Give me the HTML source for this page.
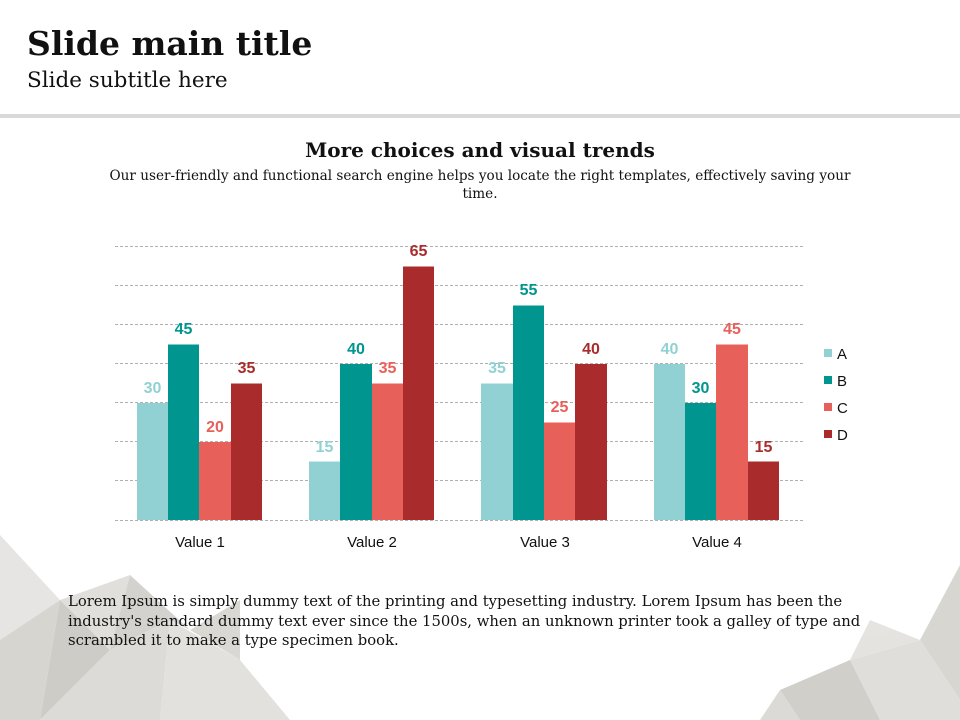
<!DOCTYPE html>
<html><head><meta charset="utf-8"><style>
body{margin:0;width:960px;height:720px;background:#fff;position:relative;overflow:hidden;font-family:"DejaVu Serif","Liberation Serif",serif}
.a{position:absolute}
</style></head><body>
<svg class="a" style="left:0;top:0" width="960" height="720">
<g opacity="0.9">
<polygon points="0,535 60,600 0,640" fill="#e4e3e0"/>
<polygon points="0,640 60,600 40,720 0,720" fill="#d2d1cc"/>
<polygon points="60,600 130,575 110,650" fill="#dddcd8"/>
<polygon points="60,600 110,650 40,720" fill="#c8c7c2"/>
<polygon points="110,650 170,620 160,720 40,720" fill="#d9d8d4"/>
<polygon points="130,575 190,630 170,620 110,650" fill="#cfcec9"/>
<polygon points="170,620 240,660 290,720 160,720" fill="#dfdeda"/>
<polygon points="190,630 240,600 240,660" fill="#d5d4cf"/>
<polygon points="960,565 920,640 960,700" fill="#d3d2cd"/>
<polygon points="920,640 850,660 880,720 960,720 960,700" fill="#dcdbd7"/>
<polygon points="850,660 780,690 800,720 880,720" fill="#cbcac5"/>
<polygon points="920,640 870,620 850,660" fill="#e2e1dd"/>
<polygon points="780,690 760,720 800,720" fill="#d8d7d3"/>
</g>
</svg>
<div class="a" style="left:27px;top:24px;font-size:33px;font-weight:bold;color:#111">Slide main title</div>
<div class="a" style="left:27px;top:68px;font-size:21.5px;color:#111">Slide subtitle here</div>
<div class="a" style="left:0;top:114px;width:960px;height:4px;background:#d9d9d9"></div>
<div class="a" style="left:0;top:138px;width:960px;text-align:center;font-size:20px;font-weight:bold;color:#111">More choices and visual trends</div>
<div class="a" style="left:105px;top:167px;width:750px;text-align:center;font-size:13.6px;line-height:18px;color:#111">Our user-friendly and functional search engine helps you locate the right templates, effectively saving your time.</div>
<svg class="a" style="left:0;top:0" width="960" height="720" font-family="'Liberation Sans',sans-serif">
<g stroke="#b0b0b0" stroke-dasharray="3,2" stroke-width="1">
<line x1="115" x2="805" y1="246.5" y2="246.5"/><line x1="115" x2="805" y1="285.5" y2="285.5"/>
<line x1="115" x2="805" y1="324.5" y2="324.5"/><line x1="115" x2="805" y1="363.5" y2="363.5"/>
<line x1="115" x2="805" y1="402.5" y2="402.5"/><line x1="115" x2="805" y1="441.5" y2="441.5"/>
<line x1="115" x2="805" y1="480.5" y2="480.5"/><line x1="115" x2="805" y1="520.5" y2="520.5"/>
</g>
<g font-size="16" font-weight="bold" text-anchor="middle">
<rect x="137" y="403" width="31" height="117" fill="#92d1d3"/><text x="152.5" y="393" fill="#92d1d3">30</text>
<rect x="168" y="344.5" width="31" height="175.5" fill="#00968f"/><text x="183.5" y="334" fill="#00968f">45</text>
<rect x="199" y="442" width="32" height="78" fill="#e8605a"/><text x="215" y="432" fill="#e8605a">20</text>
<rect x="231" y="383.5" width="31" height="136.5" fill="#a92b2b"/><text x="246.5" y="373" fill="#a92b2b">35</text>

<rect x="309" y="461.5" width="31" height="58.5" fill="#92d1d3"/><text x="324.5" y="452" fill="#92d1d3">15</text>
<rect x="340" y="364" width="32" height="156" fill="#00968f"/><text x="356" y="354" fill="#00968f">40</text>
<rect x="372" y="383.5" width="31" height="136.5" fill="#e8605a"/><text x="387.5" y="373" fill="#e8605a">35</text>
<rect x="403" y="266.5" width="31" height="253.5" fill="#a92b2b"/><text x="418.5" y="256" fill="#a92b2b">65</text>

<rect x="481" y="383.5" width="32" height="136.5" fill="#92d1d3"/><text x="497" y="373" fill="#92d1d3">35</text>
<rect x="513" y="305.5" width="31" height="214.5" fill="#00968f"/><text x="528.5" y="295" fill="#00968f">55</text>
<rect x="544" y="422.5" width="31" height="97.5" fill="#e8605a"/><text x="559.5" y="412" fill="#e8605a">25</text>
<rect x="575" y="364" width="32" height="156" fill="#a92b2b"/><text x="591" y="354" fill="#a92b2b">40</text>

<rect x="654" y="364" width="31" height="156" fill="#92d1d3"/><text x="669.5" y="354" fill="#92d1d3">40</text>
<rect x="685" y="403" width="31" height="117" fill="#00968f"/><text x="700.5" y="393" fill="#00968f">30</text>
<rect x="716" y="344.5" width="32" height="175.5" fill="#e8605a"/><text x="732" y="334" fill="#e8605a">45</text>
<rect x="748" y="461.5" width="31" height="58.5" fill="#a92b2b"/><text x="763.5" y="452" fill="#a92b2b">15</text>
</g>
<g font-size="15" fill="#111" text-anchor="middle">
<text x="200" y="547">Value 1</text><text x="372" y="547">Value 2</text>
<text x="545" y="547">Value 3</text><text x="717" y="547">Value 4</text>
</g>
<g font-size="15" fill="#111">
<rect x="824" y="349" width="8" height="8" fill="#92d1d3"/><text x="837" y="359">A</text>
<rect x="824" y="376" width="8" height="8" fill="#00968f"/><text x="837" y="386">B</text>
<rect x="824" y="403" width="8" height="8" fill="#e8605a"/><text x="837" y="413">C</text>
<rect x="824" y="430" width="8" height="8" fill="#a92b2b"/><text x="837" y="440">D</text>
</g>
</svg>
<div class="a" style="left:68px;top:592px;width:850px;font-size:14.8px;line-height:19.5px;color:#111">Lorem Ipsum is simply dummy text of the printing and typesetting industry. Lorem Ipsum has been the<br>industry's standard dummy text ever since the 1500s, when an unknown printer took a galley of type and<br>scrambled it to make a type specimen book.</div>
</body></html>
